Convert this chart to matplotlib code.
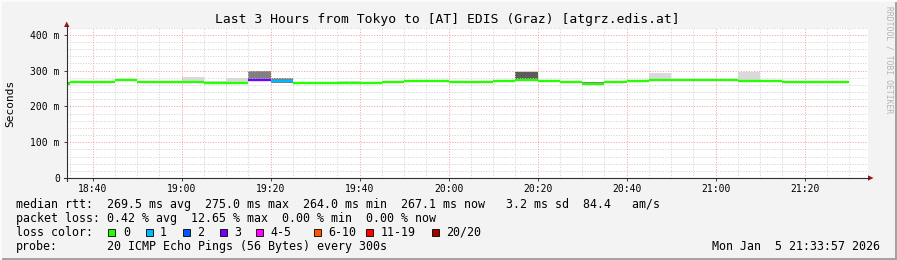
import numpy as np
import pandas as pd
import matplotlib
matplotlib.use("Agg")
import matplotlib.pyplot as plt
import matplotlib.dates as mdates
from matplotlib.patches import Rectangle, Polygon
from matplotlib.lines import Line2D

W, H = 897, 260
BG = '#f3f3f3'
MONO = 'DejaVu Sans Mono'

# 5 minute bins (start times)
bin_start = pd.date_range("2026-01-05 18:30", "2026-01-05 21:25", freq="5min")

median_ms = [263, 268.5, 268.5, 273, 269, 269, 269, 266.6, 266.6, 274, 271.3, 266.6,
             266.6, 266.6, 266.6, 269, 272, 272, 267.6, 267.6, 270.4, 274, 272, 267.6,
             264, 269, 272, 275, 275, 275, 275, 272, 270.4, 269, 269, 267.1]
loss_pings = [0, 0, 0, 0, 0, 0, 0, 0, 0, 3, 1, 0,
              0, 0, 0, 0, 0, 0, 0, 0, 0, 0, 0, 0,
              0, 0, 0, 0, 0, 0, 0, 0, 0, 0, 0, 0]
# smoke: min ping, top of dense part, max ping
smoke_lo_ms = [261, 266.5, 266.5, 271, 267, 267, 267, 264.5, 264.5, 270, 265, 264.5,
               264.5, 264.5, 264.5, 267, 270, 270, 265.5, 265.5, 268.5, 271, 270, 265.5,
               262, 267, 270, 273, 273, 273, 273, 270, 268.5, 267, 267, 265]
dense_hi_ms = [269.5, 270, 272, 274.5, 270.5, 270.5, 270.5, 268, 268, 300, 279.5, 268,
               268, 268, 268, 270.5, 273.5, 273.5, 269, 269, 272, 297, 273.5, 271,
               269, 270.5, 273.5, 276.5, 276.5, 276.5, 276.5, 273.5, 272, 270.5, 270.5, 268.5]
smoke_hi_ms = [269.5, 270, 272, 277, 270.5, 270.5, 282, 271.5, 280, 300, 280, 268,
               268, 271, 268, 270.5, 273.5, 273.5, 269, 269, 272, 298, 274, 271,
               269, 270.5, 273.5, 294.5, 277.5, 277.5, 277.5, 296.5, 273, 270.5, 270.5, 268.5]
dark_bins = ["20:15"]

loss_labels = ["0", "1", "2", "3", "4-5", "6-10", "11-19", "20/20"]
loss_upto = [0, 1, 2, 3, 5, 10, 19, 20]
loss_colors = ['#26ff00', '#00b8ff', '#0059ff', '#7400ff', '#ff00ff', '#ff5500', '#ff0000', '#a00000']

stats_rtt = ["269.5 ms avg", "275.0 ms max", "264.0 ms min", "267.1 ms now", "3.2 ms sd", "84.4   am/s"]
stats_loss = ["0.42 % avg", "12.65 % max", "0.00 % min", "0.00 % now"]
probe_text = "20 ICMP Echo Pings (56 Bytes) every 300s"
title = "Last 3 Hours from Tokyo to [AT] EDIS (Graz) [atgrz.edis.at]"
stamp = "Mon Jan  5 21:33:57 2026"


def P(x, y):
    return (x / W, 1 - y / H)


def loss_color(n):
    for up, c in zip(loss_upto, loss_colors):
        if n <= up:
            return c
    return loss_colors[-1]


fig = plt.figure(figsize=(W / 100, H / 100), dpi=100, facecolor=BG)
L, T, R, B = 66.7, 27.7, 867.7, 178.0
ax = fig.add_axes([L / W, 1 - B / H, (R - L) / W, (B - T) / H])
ax.set_facecolor('white')
for s in ax.spines.values():
    s.set_visible(False)

t0 = mdates.date2num(pd.Timestamp("2026-01-05 18:34:10"))
t1 = mdates.date2num(pd.Timestamp("2026-01-05 21:34:10"))
ax.set_xlim(t0, t1)
ax.set_ylim(0, 420)

x = mdates.date2num(bin_start)
w = 5 / 1440
lo = np.array(smoke_lo_ms)
dense_col = ['#5c5c5c' if t.strftime('%H:%M') in dark_bins else '#808080' for t in bin_start]

# smoke
ax.bar(x, np.array(smoke_hi_ms) - lo, w, bottom=lo, align='edge', color='#dadada', lw=0, zorder=1)
ax.bar(x, np.array(dense_hi_ms) - lo, w, bottom=lo, align='edge', color=dense_col, lw=0, zorder=2)

# grid
minor_c, major_c = '#d2d2d2', '#f3a0a0'
for yv in range(20, 421, 20):
    ax.axhline(yv, color=major_c if yv % 100 == 0 else minor_c, lw=0.72,
               ls=(0, (1, 1.6)), zorder=3)
gx = pd.date_range("2026-01-05 18:35", "2026-01-05 21:30", freq="5min")
for t in gx:
    ax.axvline(mdates.date2num(t), color=major_c if t.minute % 20 == 0 else minor_c,
               lw=0.72, ls=(0, (1, 1.6)), zorder=3)

# median coloured by loss
ax.hlines(median_ms, x, x + w, colors=[loss_color(n) for n in loss_pings],
          lw=1.7, zorder=5, capstyle='butt')

# ticks
ax.xaxis.set_major_locator(mdates.MinuteLocator(byminute=[0, 20, 40]))
ax.xaxis.set_major_formatter(mdates.DateFormatter('%H:%M'))
ax.set_yticks([0, 100, 200, 300, 400])
ax.set_yticklabels(["0", "100 m", "200 m", "300 m", "400 m"])
ax.tick_params(axis='x', length=2, width=0.7, pad=2.2, color='#404040', labelsize=7)
ax.tick_params(axis='y', length=2, width=0.7, pad=3, color='#404040', labelsize=7)
for lab in ax.get_xticklabels() + ax.get_yticklabels():
    lab.set_fontfamily(MONO)

# axes with arrows
axis_c = '#303030'
arrow_c = '#9a1a1a'
fig.add_artist(Line2D(*zip(P(L, 181), P(L, 25)), transform=fig.transFigure, color=axis_c, lw=0.8))
fig.add_artist(Line2D(*zip(P(63.5, B), P(869, B)), transform=fig.transFigure, color=axis_c, lw=0.8))
fig.add_artist(Polygon([P(L - 2.7, 27), P(L + 2.7, 27), P(L, 21.5)], closed=True,
                       transform=fig.transFigure, color=arrow_c, lw=0))
fig.add_artist(Polygon([P(868, B - 2.7), P(868, B + 2.7), P(873.5, B)], closed=True,
                       transform=fig.transFigure, color=arrow_c, lw=0))

# texts
fig.text(*P(447.5, 19), title, ha='center', va='center', fontsize=9.4, family=MONO)
fig.text(*P(10.7, 103), "Seconds", ha='center', va='center', rotation=90, fontsize=8, family=MONO)
fig.text(*P(889, 60), "RRDTOOL / TOBI OETIKER", ha='center', va='center', rotation=270,
         fontsize=5.8, family=MONO, color='#b4b4b4')

fs = 8.4
rows_y = [204.3, 218.3, 232.3, 246.3]
val_x = 107.3
fig.text(*P(16, rows_y[0]), "median rtt:", va='center', fontsize=fs, family=MONO)
fig.text(*P(val_x, rows_y[0]), "  ".join(stats_rtt[:4]) + "   " + "  ".join(stats_rtt[4:]),
         va='center', fontsize=fs, family=MONO)
fig.text(*P(16, rows_y[1]), "packet loss:", va='center', fontsize=fs, family=MONO)
fig.text(*P(val_x, rows_y[1]), "  ".join(stats_loss), va='center', fontsize=fs, family=MONO)
fig.text(*P(16, rows_y[2]), "loss color:", va='center', fontsize=fs, family=MONO)
box_x = [108.3, 145.5, 182.5, 219.5, 256, 314, 366, 431.5]
for bx, lab, col in zip(box_x, loss_labels, loss_colors):
    fig.add_artist(Rectangle(P(bx, rows_y[2] + 3.5), 7 / W, 7 / H, transform=fig.transFigure,
                             facecolor=col, edgecolor='black', lw=0.6))
    fig.text(*P(bx + 14.5, rows_y[2]), lab, va='center', fontsize=fs, family=MONO)
fig.text(*P(16, rows_y[3]), "probe:", va='center', fontsize=fs, family=MONO)
fig.text(*P(val_x, rows_y[3]), probe_text, va='center', fontsize=fs, family=MONO)
fig.text(*P(880, rows_y[3]), stamp, ha='right', va='center', fontsize=fs, family=MONO)

# frame
fig.add_artist(Rectangle((0, 0), 1, 2.5 / H, transform=fig.transFigure, color='#a3a3a3', lw=0))
fig.add_artist(Rectangle((1 - 2.5 / W, 0), 2.5 / W, 1, transform=fig.transFigure, color='#a3a3a3', lw=0))
fig.add_artist(Rectangle((0, 1 - 1.5 / H), 1, 1.5 / H, transform=fig.transFigure, color='#fbfbfb', lw=0))
fig.add_artist(Rectangle((0, 0), 1.5 / W, 1, transform=fig.transFigure, color='#fbfbfb', lw=0))

fig.savefig("out.png", dpi=100, facecolor=BG)
